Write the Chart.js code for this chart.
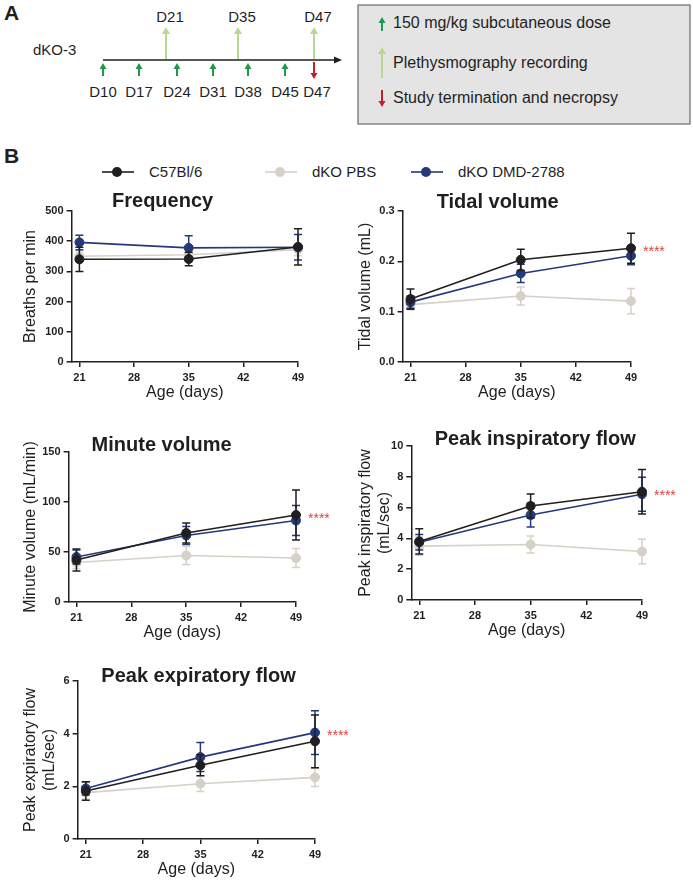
<!DOCTYPE html>
<html>
<head>
<meta charset="utf-8">
<script src="https://cdn.jsdelivr.net/npm/chart.js@4.4.1/dist/chart.umd.min.js"></script>
<style>
body { margin:0; background:#fff; }
#page { position:relative; width:693px; height:884px; overflow:hidden; background:#fff; }
#page canvas { position:absolute; }
#top { position:absolute; left:0; top:0; }
</style>
</head>
<body>
<div id="page">
<svg id="top" width="693" height="200" xmlns="http://www.w3.org/2000/svg" font-family="Liberation Sans, Arial, sans-serif"></svg>
</div>
<script>
// ---- data ----
const days = [21, 35, 49]
const xTickValues = [21, 28, 35, 42, 49]
const groupNames = ['C57Bl/6', 'dKO PBS', 'dKO DMD-2788']
const groupColors = ['#1f1f1f', '#d5d1c6', '#24397c']

// panel A timeline labels
const recordDays = ['D21', 'D35', 'D47']
const doseDays = ['D10', 'D17', 'D24', 'D31', 'D38', 'D45']
const endDay = 'D47'
const boxItems = ['150 mg/kg subcutaneous dose', 'Plethysmography recording', 'Study termination and necropsy']

// Frequency (breaths per min)
const freqC57 = [340, 341, 381]
const freqC57Err = [40, 22, 60]
const freqPBS = [350, 355, 372]
const freqPBSErr = [18, 15, 20]
const freqDMD = [396, 378, 380]
const freqDMDErr = [24, 40, 42]

// Tidal volume (mL)
const tvC57 = [0.125, 0.203, 0.226]
const tvC57Err = [0.02, 0.021, 0.03]
const tvPBS = [0.114, 0.131, 0.121]
const tvPBSErr = [0.01, 0.018, 0.025]
const tvDMD = [0.119, 0.176, 0.211]
const tvDMDErr = [0.012, 0.018, 0.018]

// Minute volume (mL/min)
const mvC57 = [42, 69, 87]
const mvC57Err = [11, 10, 25]
const mvPBS = [39.5, 46.5, 44]
const mvPBSErr = [6, 9, 9.5]
const mvDMD = [45, 66.5, 81.5]
const mvDMDErr = [7, 9, 15]

// Peak inspiratory flow (mL/sec)
const pifC57 = [3.8, 6.1, 7.03]
const pifC57Err = [0.82, 0.78, 1.45]
const pifPBS = [3.5, 3.6, 3.15]
const pifPBSErr = [0.6, 0.55, 0.8]
const pifDMD = [3.75, 5.52, 6.87]
const pifDMDErr = [0.5, 0.78, 1.1]

// Peak expiratory flow (mL/sec)
const pefC57 = [1.82, 2.8, 3.71]
const pefC57Err = [0.35, 0.4, 1.0]
const pefPBS = [1.76, 2.1, 2.34]
const pefPBSErr = [0.25, 0.3, 0.35]
const pefDMD = [1.92, 3.11, 4.04]
const pefDMDErr = [0.25, 0.55, 0.83]

// ---- panel A + legend (svg) ----
const svg = document.getElementById('top')
const NS = 'http://www.w3.org/2000/svg'
function add(tag, attrs, text) {
  const el = document.createElementNS(NS, tag)
  for (const k in attrs) el.setAttribute(k, attrs[k])
  if (text !== undefined) el.textContent = text
  svg.appendChild(el)
  return el
}
// tail y0 -> tip y1
function arrow(x, y0, y1, color, w, hw, hl) {
  const dir = y1 < y0 ? 1 : -1
  add('line', {x1: x, y1: y0, x2: x, y2: y1 + dir * hl * 0.7, stroke: color, 'stroke-width': w})
  add('polygon', {points: `${x - hw},${y1 + dir * hl} ${x},${y1} ${x + hw},${y1 + dir * hl}`, fill: color})
}
const doseGreen = '#1e9a4c', recGreen = '#b9d88f', endRed = '#c3202e'

add('text', {x: 4, y: 20, 'font-size': 21, 'font-weight': 'bold', fill: '#1f1f1f'}, 'A')
add('text', {x: 33, y: 55, 'font-size': 15, fill: '#1f1f1f'}, 'dKO-3')
add('line', {x1: 103, y1: 60, x2: 336, y2: 60, stroke: '#1f1f1f', 'stroke-width': 1.6})
add('polygon', {points: '334,56.5 342,60 334,63.5', fill: '#1f1f1f'})

const recX = [166, 238, 314]
recordDays.forEach((d, i) => {
  arrow(recX[i], 59, 27, recGreen, 2, 4, 7)
  add('text', {x: recX[i] + 4, y: 22, 'font-size': 15, 'text-anchor': 'middle', fill: '#1f1f1f'}, d)
})
const doseX = [103, 139, 177, 213, 248, 285]
doseDays.forEach((d, i) => {
  arrow(doseX[i], 76, 63, doseGreen, 2, 3.5, 6)
  add('text', {x: doseX[i], y: 97, 'font-size': 15, 'text-anchor': 'middle', fill: '#1f1f1f'}, d)
})
arrow(314, 62, 79, endRed, 2, 3.5, 6)
add('text', {x: 317, y: 97, 'font-size': 15, 'text-anchor': 'middle', fill: '#1f1f1f'}, endDay)

add('rect', {x: 358, y: 5, width: 332, height: 119, fill: '#e4e4e4', stroke: '#6a6a6a', 'stroke-width': 1.2})
arrow(382, 31, 17, doseGreen, 2, 3.5, 6)
arrow(382, 78, 47, recGreen, 2, 4, 7)
arrow(382, 90, 107, endRed, 2, 3.5, 6)
const boxY = [28, 68, 103]
boxItems.forEach((t, i) => add('text', {x: 393, y: boxY[i], 'font-size': 16, fill: '#1f1f1f'}, t))

add('text', {x: 4, y: 163, 'font-size': 21, 'font-weight': 'bold', fill: '#1f1f1f'}, 'B')
const legX = [117, 280, 426]
groupNames.forEach((n, i) => {
  add('line', {x1: legX[i] - 15, y1: 172, x2: legX[i] + 17, y2: 172, stroke: groupColors[i], 'stroke-width': 1.6})
  add('circle', {cx: legX[i], cy: 172, r: 5, fill: groupColors[i]})
  add('text', {x: legX[i] + 32, y: 177, 'font-size': 15, fill: '#1f1f1f'}, n)
})

// ---- charts ----
Chart.defaults.font.family = 'Liberation Sans, Arial, sans-serif'
Chart.defaults.color = '#1f1f1f'

const errorBars = {
  id: 'errorBars',
  beforeDatasetDraw(chart, args) {
    const ds = chart.data.datasets[args.index]
    if (!ds.errors) return
    const ctx = chart.ctx, xs = chart.scales.x, ys = chart.scales.y
    ctx.save()
    ctx.strokeStyle = ds.borderColor
    ctx.lineWidth = 1.5
    ds.data.forEach((p, i) => {
      const x = xs.getPixelForValue(p.x)
      const y1 = ys.getPixelForValue(p.y + ds.errors[i])
      const y2 = ys.getPixelForValue(p.y - ds.errors[i])
      ctx.beginPath()
      ctx.moveTo(x, y1); ctx.lineTo(x, y2)
      ctx.moveTo(x - 4, y1); ctx.lineTo(x + 4, y1)
      ctx.moveTo(x - 4, y2); ctx.lineTo(x + 4, y2)
      ctx.stroke()
    })
    ctx.restore()
  }
}

// panel title + significance stars
const panelText = {
  id: 'panelText',
  afterDraw(chart, args, opts) {
    const ctx = chart.ctx, a = chart.chartArea
    ctx.save()
    ctx.fillStyle = '#1f1f1f'
    ctx.font = 'bold 20px "Liberation Sans", Arial, sans-serif'
    ctx.textAlign = 'center'
    ctx.textBaseline = 'alphabetic'
    ctx.fillText(opts.title, a.left + opts.dx, a.top + opts.dy)
    if (opts.stars) {
      const ds = chart.data.datasets
      const last = Math.max(ds[0].data[2].y, ds[2].data[2].y)
      ctx.fillStyle = '#e2423c'
      ctx.font = '14px "Liberation Sans", Arial, sans-serif'
      ctx.textAlign = 'left'
      ctx.textBaseline = 'middle'
      ctx.fillText('****', a.right + 12, chart.scales.y.getPixelForValue(last) + 4)
    }
    ctx.restore()
  }
}

const panels = [
  {title: 'Frequency', yTitle: 'Breaths per min', yMax: 500, yStep: 100, dec: 0,
   series: [freqC57, freqPBS, freqDMD], errs: [freqC57Err, freqPBSErr, freqDMDErr],
   stars: false, plot: {l: 72, t: 211, r: 298, b: 362}, yW: 50.6, dx: 91, dy: -4},
  {title: 'Tidal volume', yTitle: 'Tidal volume (mL)', yMax: 0.3, yStep: 0.1, dec: 1,
   series: [tvC57, tvPBS, tvDMD], errs: [tvC57Err, tvPBSErr, tvDMDErr],
   stars: true, plot: {l: 403, t: 211, r: 631, b: 362}, yW: 46.6, dx: 95, dy: -3},
  {title: 'Minute volume', yTitle: 'Minute volume (mL/min)', yMax: 150, yStep: 50, dec: 0,
   series: [mvC57, mvPBS, mvDMD], errs: [mvC57Err, mvPBSErr, mvDMDErr],
   stars: true, plot: {l: 69, t: 452, r: 296, b: 602}, yW: 47.6, dx: 93, dy: -1},
  {title: 'Peak inspiratory flow', yTitle: ['Peak inspiratory flow', '(mL/sec)'], yMax: 10, yStep: 2, dec: 0,
   series: [pifC57, pifPBS, pifDMD], errs: [pifC57Err, pifPBSErr, pifDMDErr],
   stars: true, plot: {l: 411, t: 446, r: 642, b: 600}, yW: 55.3, dx: 124, dy: -1},
  {title: 'Peak expiratory flow', yTitle: ['Peak expiratory flow', '(mL/sec)'], yMax: 6, yStep: 2, dec: 0,
   series: [pefC57, pefPBS, pefDMD], errs: [pefC57Err, pefPBSErr, pefDMDErr],
   stars: true, plot: {l: 78, t: 681, r: 315, b: 839}, yW: 56.6, dx: 121, dy: 1}
]

const padTop = 35, padRight = 50, xH = 40
const drawOrder = [0, 2, 1]   // black on top, gray at the back
const page = document.getElementById('page')

panels.forEach(p => {
  const left = p.plot.l - p.yW, top = p.plot.t - padTop
  const cv = document.createElement('canvas')
  cv.width = Math.round(p.plot.r - left + padRight)
  cv.height = Math.round(p.plot.b - top + xH)
  cv.style.left = left + 'px'
  cv.style.top = top + 'px'
  page.appendChild(cv)

  const axisCommon = {
    border: {display: true, color: '#1f1f1f', width: 1.5},
    grid: {display: true, drawOnChartArea: false, drawTicks: true, tickLength: 5, color: '#1f1f1f', lineWidth: 1.5}
  }

  new Chart(cv, {
    type: 'line',
    plugins: [errorBars, panelText],
    data: {
      datasets: p.series.map((s, i) => ({
        label: groupNames[i],
        data: s.map((v, j) => ({x: days[j], y: v})),
        errors: p.errs[i],
        borderColor: groupColors[i],
        backgroundColor: groupColors[i],
        pointBackgroundColor: groupColors[i],
        pointBorderColor: groupColors[i],
        borderWidth: 1.6,
        pointRadius: 4.5,
        pointBorderWidth: 1,
        order: drawOrder[i],
        clip: false
      }))
    },
    options: {
      responsive: false,
      animation: false,
      devicePixelRatio: 1,
      layout: {padding: {top: padTop, right: padRight, bottom: 0, left: 0}},
      plugins: {
        legend: {display: false},
        tooltip: {enabled: false},
        panelText: {title: p.title, dx: p.dx, dy: p.dy, stars: p.stars}
      },
      scales: {
        x: {
          type: 'linear', min: 20, max: 49,
          ...axisCommon,
          afterBuildTicks: ax => { ax.ticks = xTickValues.map(v => ({value: v})) },
          afterFit: ax => { ax.height = xH },
          ticks: {font: {size: 11, weight: 'bold'}, padding: 4, color: '#1f1f1f', autoSkip: false, maxRotation: 0},
          title: {display: true, text: 'Age (days)', font: {size: 16, lineHeight: 1.2}, padding: 0, color: '#1f1f1f'}
        },
        y: {
          min: 0, max: p.yMax,
          ...axisCommon,
          afterFit: ax => { ax.width = p.yW },
          ticks: {stepSize: p.yStep, font: {size: 11, weight: 'bold'}, padding: 3, color: '#1f1f1f',
                  callback: v => v.toFixed(p.dec)},
          title: {display: true, text: p.yTitle, font: {size: 16, lineHeight: 1.2}, padding: 0, color: '#1f1f1f'}
        }
      }
    }
  })
})
</script>
</body>
</html>
